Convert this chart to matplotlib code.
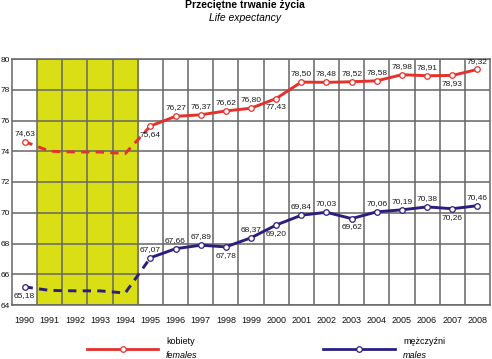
import numpy as np
import matplotlib.pyplot as plt
from matplotlib.lines import Line2D

plt.rcParams['font.family'] = ['Liberation Sans', 'DejaVu Sans']
plt.rcParams['lines.scale_dashes'] = False

years = list(range(1990, 2009))
gap_years = [1991, 1992, 1993, 1994]

# measured values (1990, 1995-2008)
data_years = [1990] + list(range(1995, 2009))
females = [74.63, 75.64, 76.27, 76.37, 76.62, 76.80, 77.43, 78.50, 78.48,
           78.52, 78.58, 78.98, 78.91, 78.93, 79.32]
males = [65.18, 67.07, 67.66, 67.89, 67.78, 68.37, 69.20, 69.84, 70.03,
         69.62, 70.06, 70.19, 70.38, 70.26, 70.46]

# dashed estimate through 1991-1994
gap_females = [74.0, 73.95, 73.95, 73.85]
gap_males = [64.95, 64.92, 64.92, 64.78]

# label above (1) or below (-1) each point
f_pos = [1, -1, 1, 1, 1, 1, -1, 1, 1, 1, 1, 1, 1, -1, 1]
m_pos = [-1, 1, 1, 1, -1, 1, -1, 1, 1, -1, 1, 1, 1, -1, 1]

red = '#e5312b'
navy = '#2a1f7e'
shade = '#dade14'
grid_c = '#666666'

fig = plt.figure(figsize=(4.92, 3.59), dpi=100)
ax = fig.add_axes([12 / 492, 54 / 359, 478 / 492, 246 / 359])

idx = {y: i for i, y in enumerate(years)}
xd = [idx[y] for y in data_years]
xg = [idx[y] for y in gap_years]

ax.axvspan(idx[1991] - 0.5, idx[1994] + 0.5, color=shade, zorder=0)

for vals, gap, col, pos in [(females, gap_females, red, f_pos),
                            (males, gap_males, navy, m_pos)]:
    # dashed part 1990 -> 1995
    ax.plot([xd[0]] + xg + [xd[1]], [vals[0]] + gap + [vals[1]], color=col,
            lw=2.1, dashes=(6, 4.5), zorder=3)
    ax.plot(xd[1:], vals[1:], color=col, lw=2.1, zorder=3)
    ax.plot(xd, vals, ls='none', marker='o', ms=4, mfc='white', mec=col,
            mew=0.9, zorder=4)
    for x, v, p in zip(xd, vals, pos):
        ax.annotate(f'{v:.2f}'.replace('.', ','), (x, v),
                    xytext=(0, 3.5 * p), textcoords='offset points',
                    ha='center', va='bottom' if p > 0 else 'top',
                    fontsize=6, color='#1a1a1a', zorder=5)

ax.set_xlim(-0.5, len(years) - 0.5)
ax.set_ylim(64, 80)
ax.set_yticks(np.arange(64, 81, 2))
ax.set_xticks(range(len(years)))
ax.set_xticklabels([str(y) for y in years])
for lab, y in zip(ax.get_xticklabels(), years):
    if y in gap_years:
        lab.set_color('#d2d400')
ax.set_xticks(np.arange(0.5, len(years) - 1, 1), minor=True)
ax.grid(True, which='minor', axis='x', color=grid_c, lw=1.1, zorder=1)
ax.grid(True, which='major', axis='y', color=grid_c, lw=1.1, zorder=1)
ax.tick_params(which='both', length=0, labelsize=6.5, colors='#111111')
ax.tick_params(axis='x', pad=8)
ax.tick_params(axis='y', pad=1.5, labelsize=6)
for s in ax.spines.values():
    s.set_color(grid_c)
    s.set_linewidth(1.1)
ax.set_axisbelow(True)

fig.text(245 / 492, 1 - 5 / 359, 'Przeciętne trwanie życia', ha='center',
         va='center', fontsize=7.5, fontweight='bold')
fig.text(245 / 492, 1 - 18 / 359, 'Life expectancy', ha='center',
         va='center', fontsize=7.5, style='italic')

# legend
for x0, x1, col, top, bot in [(87, 158, red, 'kobiety', 'females'),
                              (323, 395, navy, 'mężczyźni', 'males')]:
    yy = 1 - 349 / 359
    fig.add_artist(Line2D([x0 / 492, x1 / 492], [yy, yy], color=col, lw=2,
                          transform=fig.transFigure))
    fig.add_artist(Line2D([(x0 + x1) / 2 / 492], [yy], ls='none', marker='o',
                          ms=4, mfc='white', mec=col, mew=0.9,
                          transform=fig.transFigure))
    fig.text((x1 + 8) / 492, 1 - 342 / 359, top, va='center', fontsize=6.5)
    fig.text((x1 + 8) / 492, 1 - 356 / 359, bot, va='center', fontsize=6.5,
             style='italic')

fig.savefig('out.png', dpi=100)
